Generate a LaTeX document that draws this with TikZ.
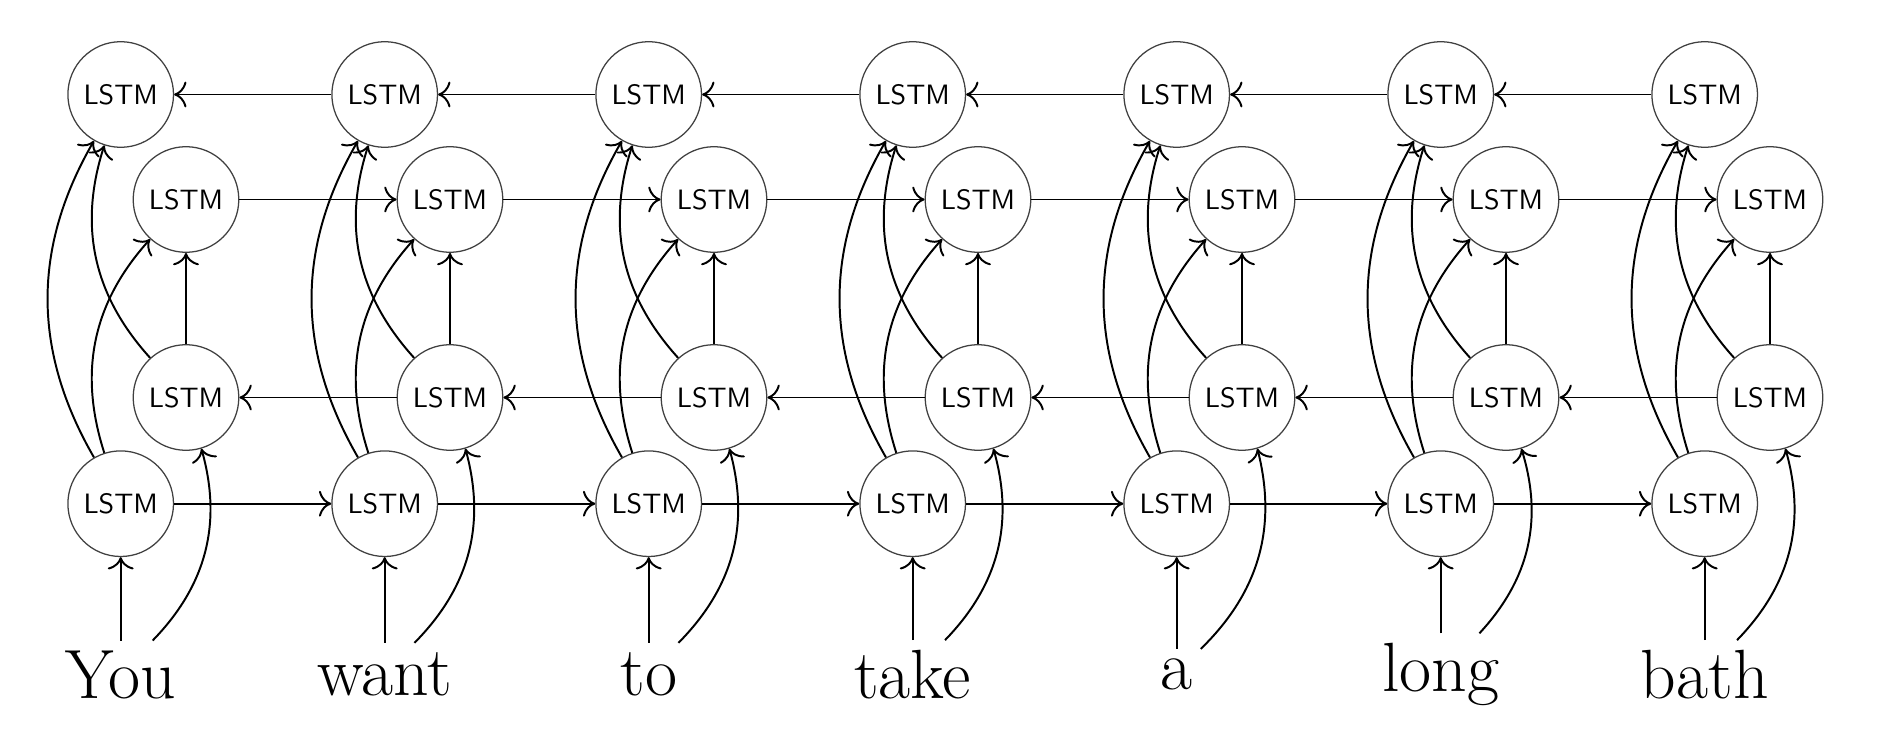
\documentclass[tikz,border=0pt]{standalone}
\usetikzlibrary{arrows.meta}
\begin{document}
\begin{tikzpicture}[x=0.357pt,y=-0.357pt,
  lstm/.style={circle,draw=black!75,line width=0.45pt,minimum size=37.7pt,inner sep=0pt,font=\sffamily},
  word/.style={font=\Huge,inner sep=3.33pt},
  conn/.style={-{To[scale=1.4]},line width=0.7pt}]
\useasboundingbox (0,0) rectangle (1877,751);
\foreach \w [count=\i from 0] in {You,want,to,take,a,long,bath}{
  \pgfmathsetmacro\xa{120.7+264*\i}
  \pgfmathsetmacro\xb{186+264*\i}
  \node[lstm] (B\i) at (\xa,94.5) {LSTM};
  \node[lstm] (F\i) at (\xb,199.5) {LSTM};
  \node[lstm] (b\i) at (\xb,397.5) {LSTM};
  \node[lstm] (f\i) at (\xa,503.7) {LSTM};
  \node[word] (w\i) at (\xa,674.5) {\w};
  \draw[conn] (w\i) -- (f\i);
  \draw[conn] (w\i) to[bend right] (b\i);
  \draw[conn] (f\i) to[bend left] (F\i);
  \draw[conn] (f\i) to[bend left] (B\i);
  \draw[conn] (b\i) to[bend left] (B\i);
  \draw[conn] (b\i) -- (F\i);
}
\foreach \i [evaluate=\i as \j using int(\i+1)] in {0,...,5}{
  \draw[conn] (f\i) -- (f\j);
  \draw[conn] (F\i) -- (F\j);
  \draw[conn] (b\j) -- (b\i);
  \draw[conn] (B\j) -- (B\i);
}
\end{tikzpicture}
\end{document}
